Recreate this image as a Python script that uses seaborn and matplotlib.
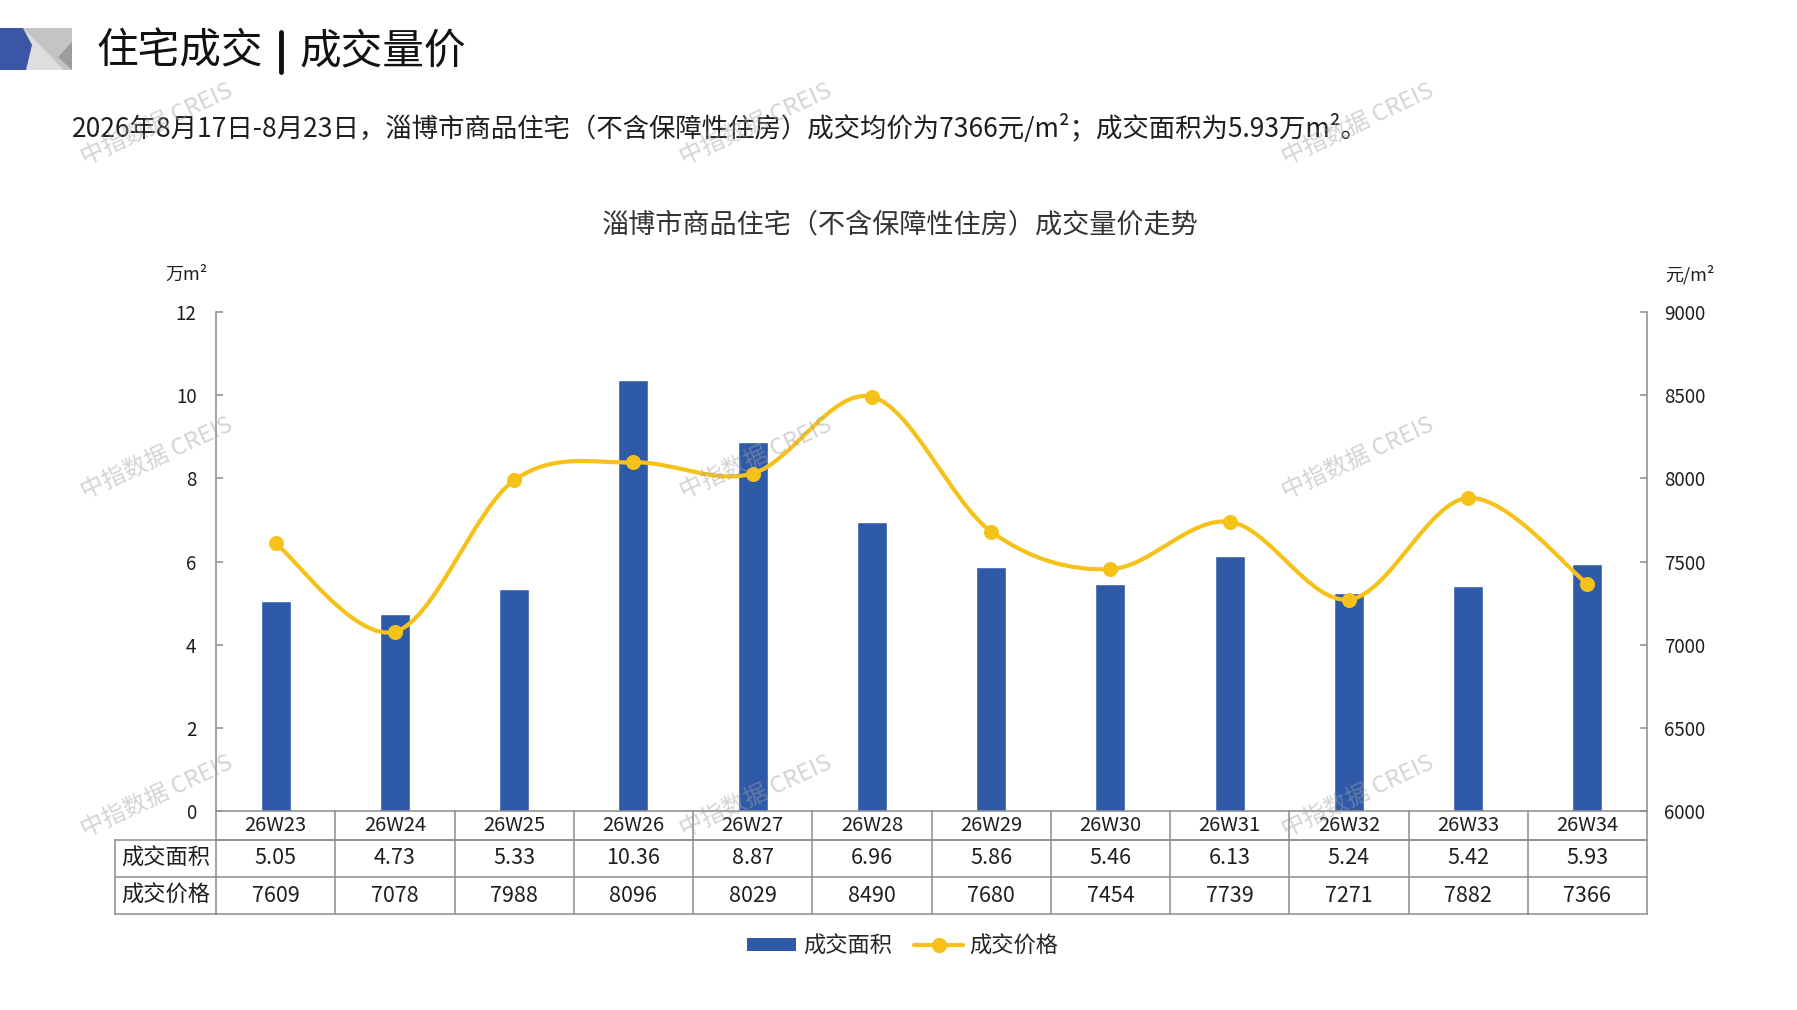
import numpy as np
import pandas as pd
import matplotlib
matplotlib.use("Agg")
import matplotlib.pyplot as plt
import seaborn as sns
from matplotlib.path import Path
from matplotlib.patches import PathPatch, Polygon, Patch
from matplotlib.lines import Line2D
from matplotlib.transforms import blended_transform_factory

# ---------------- data ----------------
weeks = ["26W23", "26W24", "26W25", "26W26", "26W27", "26W28",
         "26W29", "26W30", "26W31", "26W32", "26W33", "26W34"]
area = [5.05, 4.73, 5.33, 10.36, 8.87, 6.96, 5.86, 5.46, 6.13, 5.24, 5.42, 5.93]
price = [7609, 7078, 7988, 8096, 8029, 8490, 7680, 7454, 7739, 7271, 7882, 7366]
left_ticks = [0, 2, 4, 6, 8, 10, 12]
right_ticks = [6000, 6500, 7000, 7500, 8000, 8500, 9000]
row_labels = ["成交面积", "成交价格"]

title_left = "住宅成交"
title_right = "成交量价"
subtitle = "2026年8月17日-8月23日，淄博市商品住宅（不含保障性住房）成交均价为7366元/m²；成交面积为5.93万m²。"
chart_title = "淄博市商品住宅（不含保障性住房）成交量价走势"
watermark = "中指数据 CREIS"

BLUE = "#2F5AA8"
YELLOW = "#F6C21A"
GREY = "#8C8C8C"
TXT = "#1E1E1E"

W, H = 1797, 1010

sns.set_theme(style="white")
plt.rcParams['font.family'] = ['Noto Sans CJK SC', 'DejaVu Sans']


def fx(x):
    return x / W


def fy(y):
    return 1 - y / H


fig = plt.figure(figsize=(W / 100, H / 100), dpi=100)
fig.patch.set_facecolor("white")

AX_L, AX_R, AX_T, AX_B = 216, 1647, 312, 811
ax = fig.add_axes([fx(AX_L), fy(AX_B), (AX_R - AX_L) / W, (AX_B - AX_T) / H])

df = pd.DataFrame({"week": weeks, "area": area, "price": price})
sns.barplot(data=df, x="week", y="area", color=BLUE, width=0.25,
            saturation=1, ax=ax, zorder=2)
ax.set_xlim(-0.5, len(weeks) - 0.5)
ax.set_ylim(0, 12)
ax.set_yticks(left_ticks)
ax.set_yticklabels([str(t) for t in left_ticks])
ax.set_xlabel("")
ax.set_ylabel("")
ax.tick_params(axis="x", length=0, labelbottom=False)
ax.tick_params(axis="y", direction="in", length=5, width=1.1, color=GREY,
               labelsize=13.5, labelcolor=TXT, pad=14)
for s in ["top", "right"]:
    ax.spines[s].set_visible(False)
for s in ["left", "bottom"]:
    ax.spines[s].set_color(GREY)
    ax.spines[s].set_linewidth(1.1)

ax2 = ax.twinx()
ax2.set_ylim(6000, 9000)
ax2.set_yticks(right_ticks)
ax2.set_yticklabels([str(t) for t in right_ticks])
ax2.tick_params(axis="y", direction="in", length=5, width=1.1, color=GREY,
                labelsize=13.5, labelcolor=TXT, pad=12)
for s in ["top", "left", "bottom"]:
    ax2.spines[s].set_visible(False)
ax2.spines["right"].set_color(GREY)
ax2.spines["right"].set_linewidth(1.1)

# smooth line (Bezier through data points)
xs = np.arange(len(price), dtype=float)
ys = np.array(price, dtype=float)
n = len(xs)
verts = [(xs[0], ys[0])]
codes = [Path.MOVETO]
for i in range(n - 1):
    a = i - 1 if i > 0 else i
    d = i + 2 if i + 2 < n else i + 1
    c1 = (xs[i] + (xs[i + 1] - xs[a]) / 6, ys[i] + (ys[i + 1] - ys[a]) / 6)
    c2 = (xs[i + 1] - (xs[d] - xs[i]) / 6, ys[i + 1] - (ys[d] - ys[i]) / 6)
    verts += [c1, c2, (xs[i + 1], ys[i + 1])]
    codes += [Path.CURVE4] * 3
ax2.add_patch(PathPatch(Path(verts, codes), fill=False, edgecolor=YELLOW,
                        lw=3.0, capstyle="round", joinstyle="round", zorder=3))
sns.scatterplot(x=xs, y=ys, ax=ax2, color=YELLOW, edgecolor=YELLOW, s=100,
                zorder=4, legend=False)
ax2.set_xlim(-0.5, len(weeks) - 0.5)
ax2.set_ylim(6000, 9000)

# ---------------- table under the plot ----------------
tr = blended_transform_factory(ax.transData, ax.transAxes)
axh = AX_B - AX_T
r0 = 0
r1 = -(840 - AX_B) / axh
r2 = -(877 - AX_B) / axh
r3 = -(914 - AX_B) / axh
left_border = (115 - AX_L) / (AX_R - AX_L)
lkw = dict(color=GREY, lw=1.1, clip_on=False, solid_capstyle="projecting")

# horizontal lines
ax.plot([-0.5, n - 0.5], [r1, r1], transform=tr, **lkw)
ax.plot([left_border, 1], [r1, r1], transform=ax.transAxes, **lkw)
for r in [r2, r3]:
    ax.plot([left_border, 1], [r, r], transform=ax.transAxes, **lkw)
# vertical lines
for i in range(n + 1):
    ax.plot([i - 0.5, i - 0.5], [r0, r3], transform=tr, **lkw)
ax.plot([left_border, left_border], [r1, r3], transform=ax.transAxes, **lkw)

for i, w in enumerate(weeks):
    ax.text(i, (r0 + r1) / 2, w, transform=tr, ha="center", va="center",
            fontsize=14.5, color=TXT)
    ax.text(i, (r1 + r2) / 2, f"{area[i]:.2f}", transform=tr, ha="center",
            va="center", fontsize=15.5, color=TXT)
    ax.text(i, (r2 + r3) / 2, str(price[i]), transform=tr, ha="center",
            va="center", fontsize=15.5, color=TXT)
for lab, (ra, rb) in zip(row_labels, [(r1, r2), (r2, r3)]):
    ax.text(left_border / 2, (ra + rb) / 2, lab, transform=ax.transAxes,
            ha="center", va="center", fontsize=16, color=TXT)

# ---------------- texts ----------------
fig.text(fx(186), fy(275), "万m²", ha="center", va="center", fontsize=13, color=TXT)
fig.text(fx(1690), fy(275), "元/m²", ha="center", va="center", fontsize=13, color=TXT)
fig.text(fx(900), fy(225), chart_title, ha="center", va="center", fontsize=19.5,
         color="#333333")
fig.text(fx(72), fy(129), subtitle, ha="left", va="center", fontsize=19, color=TXT)

# header
fig.text(fx(180), fy(52), title_left, ha="center", va="center", fontsize=30, color="#111111")
fig.text(fx(383), fy(52), title_right, ha="center", va="center", fontsize=30, color="#111111")
fig.add_artist(Line2D([fx(281), fx(281)], [fy(32), fy(72)], color="#111111", lw=3.5,
                      transform=fig.transFigure))


def poly(pts, color):
    fig.add_artist(Polygon([(fx(x), fy(y)) for x, y in pts], closed=True,
                           facecolor=color, edgecolor="none",
                           transform=fig.transFigure))


poly([(0, 28), (72, 28), (72, 70), (0, 70)], "#C4C4C4")
poly([(23, 28), (64, 70), (0, 70)], "#DEDEDE")
poly([(72, 42), (72, 70), (58, 57)], "#9C9C9C")
poly([(0, 28), (23, 28), (32, 45), (26, 70), (0, 70)], "#3A56A5")

# legend
handles = [Patch(facecolor=BLUE, edgecolor="none", label="成交面积"),
           Line2D([0], [0], color=YELLOW, lw=3, marker="o", markersize=10,
                  label="成交价格")]
fig.legend(handles=handles, loc="center", bbox_to_anchor=(0.5025, fy(946)), ncol=2,
           frameon=False, fontsize=16, handlelength=2.2, handleheight=0.55,
           columnspacing=1.0, handletextpad=0.3)

# watermarks
for wx in [157, 756, 1358]:
    for wy in [124, 458, 796]:
        fig.text(fx(wx), fy(wy), watermark, ha="center", va="center", rotation=25,
                 fontsize=17, color="#A0A0A0", alpha=0.45, zorder=10)

fig.savefig("out.png", dpi=100, facecolor="white")
